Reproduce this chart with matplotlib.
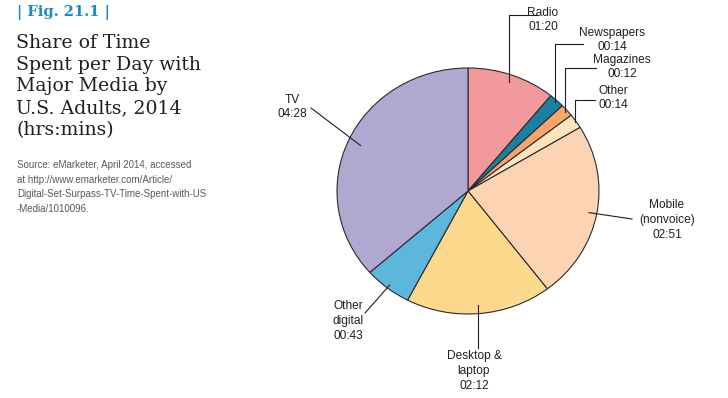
import numpy as np
import matplotlib
matplotlib.use("Agg")
import matplotlib.pyplot as plt

# minutes per day, U.S. adults 2014
media = ["Radio", "Newspapers", "Magazines", "Other", "Mobile\n(nonvoice)",
         "Desktop &\nlaptop", "Other\ndigital", "TV"]
minutes = [80, 14, 12, 14, 171, 132, 43, 268]
time_labels = ["01:20", "00:14", "00:12", "00:14", "02:51", "02:12", "00:43", "04:28"]
colors = ["#f29a9b", "#1b7fa1", "#f7a66c", "#fde4bc", "#fdd4b3", "#fdd98e",
          "#5db6dc", "#b1a8d2"]

W, H = 728, 398
fig = plt.figure(figsize=(W / 100, H / 100), dpi=100)

NARROW = ["Liberation Sans", "DejaVu Sans"]
SERIF = ["DejaVu Serif"]


def fx(px):
    return px / W


def fy(py):
    return 1 - py / H


# left text block
fig.text(fx(17), fy(12), "| Fig. 21.1 |", family=SERIF, fontsize=10.5,
         fontweight="bold", color="#1a8ac6", va="center", ha="left")
title_lines = ["Share of Time", "Spent per Day with", "Major Media by",
               "U.S. Adults, 2014", "(hrs:mins)"]
for i, line in enumerate(title_lines):
    fig.text(fx(16), fy(43 + i * 21.7), line, family=SERIF, fontsize=13.6,
             color="#231f20", va="center", ha="left")
source_lines = ["Source: eMarketer, April 2014, accessed",
                "at http://www.emarketer.com/Article/",
                "Digital-Set-Surpass-TV-Time-Spent-with-US",
                "-Media/1010096."]
for i, line in enumerate(source_lines):
    fig.text(fx(17), fy(165 + i * 14.6), line, family=NARROW, fontsize=7.0,
             color="#5c5a58", va="center", ha="left")

# pie (slightly wider than tall, like the original)
cx, cy, rx, ry = 468, 191, 131, 123
ax = fig.add_axes([fx(cx - rx), fy(cy + ry), 2 * rx / W, 2 * ry / H])
wedges, _ = ax.pie(minutes, colors=colors, startangle=90, counterclock=False,
                   radius=1.0,
                   wedgeprops=dict(edgecolor="#2b2b2b", linewidth=0.8))
ax.set_xlim(-1, 1)
ax.set_ylim(-1, 1)
ax.set_aspect("auto")
ax.axis("off")

# label layout: text centre, leader end, leader style, start radius
layout = {
    "Radio": ((543, 20), (538, 15), "elbow", 0.94),
    "Newspapers": ((612, 40), (583, 44), "elbow", 0.98),
    "Magazines": ((622, 67), (596, 68), "elbow", 0.98),
    "Other": ((613, 98), (595, 100), "elbow", 0.99),
    "Mobile\n(nonvoice)": ((667, 220), (632, 219), "straight", 0.94),
    "Desktop &\nlaptop": ((474, 371), (474, 348), "vertical", 0.93),
    "Other\ndigital": ((348, 321), (365, 313), "straight", 0.97),
    "TV": ((292, 107), (311, 108), "straight", 0.90),
}

for w, name, tl in zip(wedges, media, time_labels):
    (tx, ty), (ex, ey), style, r = layout[name]
    mid = np.deg2rad((w.theta1 + w.theta2) / 2)
    sx = cx + r * rx * np.cos(mid)
    sy = cy - r * ry * np.sin(mid)
    if style == "elbow":
        xs, ys = [sx, sx, ex], [sy, ey, ey]
    elif style == "vertical":
        xs, ys = [sx, sx], [sy, ey]
    else:
        xs, ys = [sx, ex], [sy, ey]
    fig.add_artist(plt.Line2D([fx(x) for x in xs], [fy(y) for y in ys],
                              color="#231f20", linewidth=0.8))
    fig.text(fx(tx), fy(ty), name + "\n" + tl, family=NARROW, fontsize=8.6,
             color="#231f20", ha="center", va="center", linespacing=1.3)

fig.savefig("out.png", dpi=100)
